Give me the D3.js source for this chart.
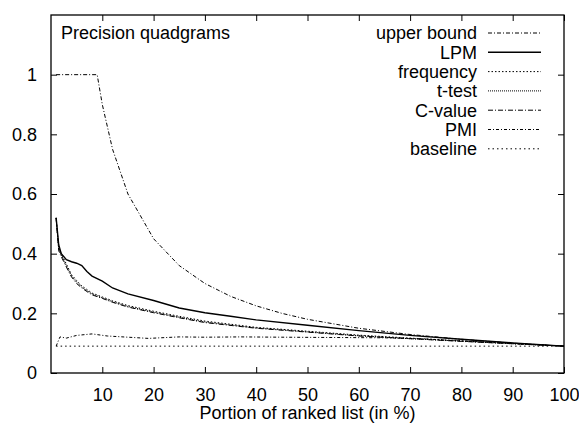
<!DOCTYPE html>
<html>
<head>
<meta charset="utf-8">
<script src="https://cdn.jsdelivr.net/npm/d3@7"></script>
<style>
  body { margin: 0; background: #fff; }
  text { font-family: "Liberation Sans", Arial, sans-serif; font-size: 18px; fill: #000; }
</style>
</head>
<body>
<script>
// values (x = portion of ranked list in %, y = precision)
var upperX = [1, 9, 10, 12, 15, 20, 25, 30, 35, 40, 45, 50, 60, 70, 80, 90, 100];
var upperY = [1, 1, 0.9, 0.75, 0.6, 0.45, 0.36, 0.3, 0.257, 0.225, 0.2, 0.18, 0.15, 0.129, 0.113, 0.1, 0.09];

var lpmX = [1, 1.5, 2, 3, 4, 5, 6, 7, 8, 10, 12, 15, 20, 25, 30, 35, 40, 50, 60, 70, 80, 90, 100];
var lpmY = [0.52, 0.43, 0.4, 0.38, 0.373, 0.368, 0.36, 0.34, 0.325, 0.308, 0.285, 0.265, 0.243, 0.218, 0.202, 0.19, 0.178, 0.16, 0.142, 0.126, 0.113, 0.101, 0.09];

var groupX = [1, 1.5, 2, 3, 4, 5, 6, 7, 8, 10, 12, 15, 20, 25, 30, 40, 50, 60, 70, 80, 90, 100];
var freqY = [0.52, 0.42, 0.4, 0.365, 0.33, 0.31, 0.292, 0.28, 0.268, 0.255, 0.242, 0.226, 0.207, 0.19, 0.174, 0.153, 0.14, 0.127, 0.117, 0.108, 0.099, 0.09];
var ttestY = [0.52, 0.415, 0.395, 0.36, 0.325, 0.305, 0.288, 0.276, 0.265, 0.252, 0.239, 0.223, 0.204, 0.187, 0.171, 0.151, 0.138, 0.125, 0.115, 0.107, 0.098, 0.09];
var cvalueY = [0.52, 0.41, 0.39, 0.355, 0.322, 0.3, 0.285, 0.273, 0.262, 0.25, 0.237, 0.221, 0.202, 0.185, 0.169, 0.15, 0.137, 0.124, 0.115, 0.106, 0.098, 0.09];

var pmiX = [1, 1.75, 3, 5, 8, 11, 15, 19, 25, 30, 37, 45, 55, 65, 72, 80, 90, 100];
var pmiY = [0.09, 0.121, 0.117, 0.126, 0.131, 0.124, 0.12, 0.116, 0.121, 0.12, 0.121, 0.12, 0.119, 0.118, 0.115, 0.107, 0.099, 0.09];

var baseX = [1, 100];
var baseY = [0.09, 0.09];

var xTicks = [10, 20, 30, 40, 50, 60, 70, 80, 90, 100];
var yTicks = [0, 0.2, 0.4, 0.6, 0.8, 1];

var seriesNames = ["upper bound", "LPM", "frequency", "t-test", "C-value", "PMI", "baseline"];
var seriesX = [upperX, lpmX, groupX, groupX, groupX, pmiX, baseX];
var seriesY = [upperY, lpmY, freqY, ttestY, cvalueY, pmiY, baseY];
var dashes = ["4,2,1,2", null, "1.5,2", "1,1", "5,2,1,2", "3,2,1,2", "1.5,3"];

var margin = { top: 15, right: 15, bottom: 57, left: 51 },
   width = 579 - margin.left - margin.right,
   height = 430 - margin.top - margin.bottom;

var x = d3.scaleLinear().domain([0, 100]).range([0, width]);
var y = d3.scaleLinear().domain([0, 1.2]).range([height, 0]);

var svg = d3.select("body").append("svg")
   .attr("width", 579)
   .attr("height", 430)
   .append("g")
   .attr("transform", "translate(" + margin.left + "," + margin.top + ")");

// ticks: inward, mirrored on top and right like gnuplot
var tl = 6;
svg.append("g").attr("transform", "translate(0," + height + ")")
   .call(d3.axisBottom(x).tickValues(xTicks).tickSize(-tl).tickPadding(tl + 9).tickFormat(d3.format("d")))
   .call(function(g) { g.select(".domain").remove(); });
svg.append("g")
   .call(d3.axisTop(x).tickValues(xTicks).tickSize(-tl).tickFormat(""))
   .call(function(g) { g.select(".domain").remove(); });
svg.append("g")
   .call(d3.axisLeft(y).tickValues(yTicks).tickSize(-tl).tickPadding(tl + 8).tickFormat(d3.format("")))
   .call(function(g) { g.select(".domain").remove(); });
svg.append("g").attr("transform", "translate(" + width + ",0)")
   .call(d3.axisRight(y).tickValues(yTicks).tickSize(-tl).tickFormat(""))
   .call(function(g) { g.select(".domain").remove(); });

svg.selectAll(".tick line").attr("stroke", "#000");
svg.selectAll(".tick text")
   .attr("font-family", "Liberation Sans, Arial, sans-serif")
   .attr("font-size", 18);

svg.append("rect")
   .attr("width", width)
   .attr("height", height)
   .attr("fill", "none")
   .attr("stroke", "#000")
   .attr("stroke-width", 1.3);

var line = d3.line()
   .x(function(d) { return x(d[0]); })
   .y(function(d) { return y(d[1]); });

seriesNames.forEach(function(name, i) {
   var pts = seriesX[i].map(function(v, j) { return [v, seriesY[i][j]]; });
   svg.append("path")
      .datum(pts)
      .attr("fill", "none")
      .attr("stroke", "#000")
      .attr("stroke-width", i == 1 ? 1.4 : 1)
      .attr("stroke-dasharray", dashes[i])
      .attr("d", line);
});

// legend
var lg = svg.append("g").attr("transform", "translate(" + (width - 23) + ",18)");
seriesNames.forEach(function(name, i) {
   var row = lg.append("g").attr("transform", "translate(0," + i * 19.3 + ")");
   row.append("text")
      .attr("x", -64)
      .attr("dy", "0.35em")
      .attr("text-anchor", "end")
      .text(name);
   row.append("line")
      .attr("x1", -53).attr("x2", 0)
      .attr("stroke", "#000")
      .attr("stroke-width", i == 1 ? 1.4 : 1)
      .attr("stroke-dasharray", dashes[i]);
});

svg.append("text")
   .attr("x", 10)
   .attr("y", 18)
   .attr("dy", "0.35em")
   .text("Precision quadgrams");

svg.append("text")
   .attr("x", width / 2)
   .attr("y", height + 40)
   .attr("dy", "0.35em")
   .attr("text-anchor", "middle")
   .text("Portion of ranked list (in %)");
</script>
</body>
</html>
